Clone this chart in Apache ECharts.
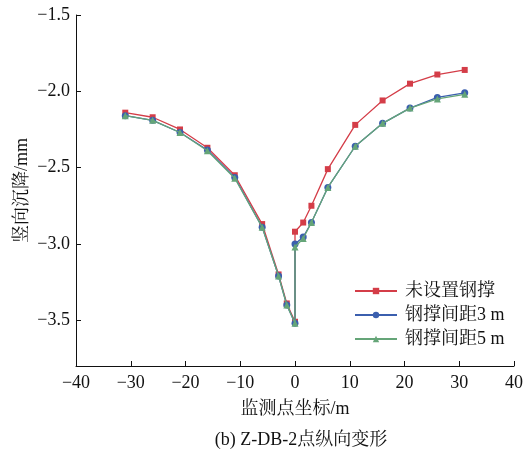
<!DOCTYPE html>
<html>
<head>
<meta charset="utf-8">
<script src="https://cdn.jsdelivr.net/npm/echarts@6/dist/echarts.min.js"></script>
<style>
html,body{margin:0;padding:0;background:#fff;}
#c{width:526px;height:452px;}
</style>
</head>
<body>
<div id="c"></div>
<script>
var xCoords = [-31, -26, -21, -16, -11, -6, -3, -1.5, 0, 0, 1.5, 3, 6, 11, 16, 21, 26, 31];
var noBrace = [-2.14, -2.17, -2.25, -2.37, -2.55, -2.87, -3.20, -3.39, -3.51, -2.92, -2.86, -2.75, -2.51, -2.22, -2.06, -1.95, -1.89, -1.86];
var brace3m = [-2.16, -2.19, -2.27, -2.385, -2.565, -2.89, -3.21, -3.40, -3.52, -3.00, -2.955, -2.86, -2.63, -2.36, -2.21, -2.11, -2.04, -2.01];
var brace5m = [-2.16, -2.19, -2.27, -2.39, -2.57, -2.89, -3.21, -3.40, -3.52, -3.02, -2.965, -2.86, -2.63, -2.36, -2.21, -2.11, -2.05, -2.02];
var seriesNames = ['未设置钢撑', '钢撑间距3 m', '钢撑间距5 m'];
var yTicks = [-3.5, -3.0, -2.5, -2.0, -1.5];

var FONT = '"Liberation Serif", "Times New Roman", "Noto Serif CJK SC", "Noto Sans CJK SC", serif';
function pairs(ys){ return xCoords.map(function(x,i){ return [x, ys[i]]; }); }
function minus(s){ return String(s).replace('-', '\u2212'); }

var chart = echarts.init(document.getElementById('c'), null, {renderer:'canvas'});
var colors = ['#d43d48', '#3b5fae', '#65a578'];
var symbols = ['rect', 'circle', 'triangle'];
var sizes = [6, 7, 7];
var dataSets = [noBrace, brace3m, brace5m];

chart.setOption({
  animation: false,
  backgroundColor: '#fff',
  textStyle: {fontFamily: FONT},
  title: {
    text: '(b) Z-DB-2点纵向变形',
    left: 296, textAlign: 'center', top: 426,
    textStyle: {fontFamily: FONT, fontSize: 18, fontWeight: 'normal', color: '#111'}
  },
  legend: {
    orient: 'vertical',
    left: 349, top: 277,
    itemWidth: 42, itemHeight: 8, itemGap: 6,
    textStyle: {fontFamily: FONT, fontSize: 18, color: '#111', padding: [0,0,0,3]},
    data: seriesNames
  },
  grid: {left: 76, right: 10, top: 15, bottom: 86, containLabel: false},
  xAxis: {
    type: 'value', min: -40, max: 40, interval: 10,
    name: '监测点坐标/m', nameLocation: 'middle', nameGap: 34, nameMoveOverlap: false,
    nameTextStyle: {fontFamily: FONT, fontSize: 18, color: '#111'},
    axisLine: {show: true, onZero: false, lineStyle: {color: '#111', width: 1}},
    axisTick: {show: true, inside: true, length: 5, lineStyle: {color: '#111'}},
    axisLabel: {fontFamily: FONT, fontSize: 18, color: '#111', margin: 8, formatter: function(v){ return minus(v); }},
    splitLine: {show: false}
  },
  yAxis: {
    type: 'value', min: -3.8, max: -1.5,
    name: '竖向沉降/mm', nameLocation: 'middle', nameGap: 45, nameRotate: 90, nameMoveOverlap: false,
    nameTextStyle: {fontFamily: FONT, fontSize: 18, color: '#111'},
    axisLine: {show: true, onZero: false, lineStyle: {color: '#111', width: 1}},
    axisTick: {show: true, inside: true, length: 5, lineStyle: {color: '#111'}, customValues: yTicks},
    axisLabel: {fontFamily: FONT, fontSize: 18, color: '#111', margin: 6, customValues: yTicks,
      formatter: function(v){ return minus(Number(v).toFixed(1)); }},
    splitLine: {show: false}
  },
  series: seriesNames.map(function(n, i){
    return {
      name: n, type: 'line', data: pairs(dataSets[i]),
      symbol: symbols[i], symbolSize: sizes[i], showSymbol: true,
      itemStyle: {color: colors[i]},
      lineStyle: {color: colors[i], width: 1.3},
      z: 2 + i
    };
  })
});
</script>
</body>
</html>
